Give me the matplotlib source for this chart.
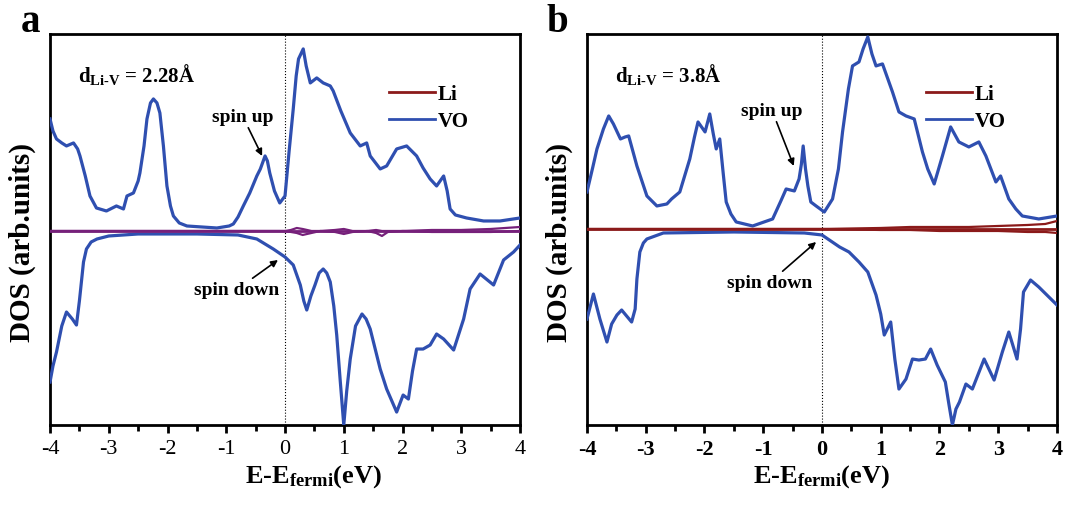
import numpy as np
import matplotlib
matplotlib.use("Agg")
import matplotlib.pyplot as plt
from matplotlib.lines import Line2D

plt.rcParams['font.family'] = ['Liberation Serif', 'DejaVu Serif']
plt.rcParams['mathtext.fontset'] = 'custom'
plt.rcParams['mathtext.rm'] = 'Liberation Serif'
plt.rcParams['mathtext.bf'] = 'Liberation Serif:bold'
plt.rcParams['mathtext.it'] = 'Liberation Serif:italic'
plt.rcParams['axes.unicode_minus'] = False

# ---- panel a : d(Li-V) = 2.28 A ----
a_up_E = [-4.0, -3.95, -3.89, -3.8, -3.72, -3.6, -3.53, -3.49, -3.4, -3.32, -3.21, -3.04,
          -2.87, -2.75, -2.69, -2.58, -2.5, -2.47, -2.4, -2.35, -2.29, -2.24, -2.18, -2.13,
          -2.07, -2.01, -1.95, -1.9, -1.8, -1.67, -1.16, -0.95, -0.88, -0.8, -0.71, -0.6,
          -0.48, -0.42, -0.34, -0.3, -0.26, -0.18, -0.09, 0.0, 0.07, 0.14, 0.19, 0.23,
          0.31, 0.36, 0.43, 0.54, 0.65, 0.77, 0.82, 0.95, 1.11, 1.28, 1.39, 1.45, 1.62,
          1.73, 1.9, 2.07, 2.24, 2.35, 2.47, 2.58, 2.7, 2.76, 2.81, 2.9, 3.09, 3.38, 3.66, 4.0]
a_up_dos = [112, 100, 92, 88, 85, 88, 82, 75, 55, 35, 23, 20,
            25, 22, 35, 38, 50, 58, 85, 112, 128, 132, 128, 118,
            85, 45, 25, 15, 8, 5, 3, 5, 7, 14, 25, 38,
            55, 62, 75, 70, 58, 40, 28, 35, 80, 122, 155, 172,
            182, 165, 148, 153, 148, 145, 140, 120, 98, 85, 88, 75, 62,
            65, 82, 85, 75, 63, 52, 45, 55, 40, 22, 16, 13, 10, 10, 13]

a_dn_E = [-4.0, -3.95, -3.89, -3.8, -3.72, -3.62, -3.55, -3.5, -3.43, -3.38, -3.3, -3.2,
          -3.0, -2.5, -1.5, -0.8, -0.48, -0.2, 0.0, 0.14, 0.26, 0.32, 0.37, 0.44, 0.51,
          0.58, 0.65, 0.71, 0.77, 0.83, 0.88, 0.94, 1.0, 1.05, 1.11, 1.2, 1.31, 1.38,
          1.45, 1.62, 1.73, 1.9, 2.01, 2.1, 2.17, 2.24, 2.35, 2.47, 2.58, 2.7, 2.87,
          3.04, 3.15, 3.32, 3.55, 3.72, 3.89, 4.0]
a_dn_dos = [-151, -135, -121, -95, -81, -88, -94, -70, -31, -18, -11, -8,
            -5, -3, -3, -4, -8, -18, -26, -34, -54, -70, -79, -65, -54,
            -42, -38, -42, -51, -75, -104, -150, -194, -160, -128, -95, -83, -88,
            -98, -138, -158, -181, -164, -168, -140, -118, -118, -114, -103, -108, -119,
            -88, -58, -43, -54, -29, -21, -14]

a_li_E = [-4.0, 0.0, 0.1, 0.2, 0.3, 0.45, 0.6, 0.85, 1.0, 1.15, 1.4, 1.55, 1.65, 1.75,
          2.0, 2.5, 3.0, 3.5, 4.0]
a_li_up = [0, 0, 1, 3, 2, 0, 0, 1, 2, 0, 0, 1, 0, 0, 0, 1, 1, 2, 4]
a_li_dn = [0, 0, -1, -2, -4, -2, 0, -1, -3, -1, 0, -2, -5, -1, 0, -1, -1, -1, 0]

# ---- panel b : d(Li-V) = 3.8 A ----
b_up_E = [-4.0, -3.9, -3.83, -3.72, -3.63, -3.55, -3.43, -3.35, -3.29, -3.22, -3.15, -2.98,
          -2.81, -2.64, -2.56, -2.42, -2.25, -2.17, -2.11, -2.05, -1.99, -1.91, -1.85,
          -1.8, -1.74, -1.68, -1.63, -1.55, -1.46, -1.18, -0.84, -0.7, -0.61, -0.47, -0.39,
          -0.35, -0.32, -0.28, -0.24, -0.19, -0.1, 0.04, 0.18, 0.28, 0.35, 0.45, 0.52,
          0.63, 0.7, 0.78, 0.85, 0.92, 1.03, 1.2, 1.31, 1.43, 1.57, 1.71, 1.8, 1.91, 2.05,
          2.19, 2.33, 2.5, 2.67, 2.79, 2.96, 3.04, 3.18, 3.3, 3.41, 3.69, 4.0]
b_up_dos = [37, 62, 80, 100, 113, 105, 90, 92, 93, 78, 63, 33,
            23, 25, 30, 37, 70, 92, 107, 102, 97, 115, 95,
            80, 90, 55, 27, 15, 7, 3, 10, 28, 40, 38, 50,
            65, 83, 60, 43, 27, 23, 17, 30, 60, 97, 140, 163,
            167, 180, 192, 175, 163, 165, 137, 117, 113, 110, 77, 60, 45, 73,
            102, 87, 82, 87, 73, 47, 53, 30, 20, 13, 10, 13]

b_dn_E = [-4.0, -3.89, -3.78, -3.66, -3.58, -3.49, -3.41, -3.24, -3.18, -3.15, -3.1, -3.04,
          -2.98, -2.7, -1.5, -0.3, 0.0, 0.3, 0.46, 0.63, 0.78, 0.92, 1.0, 1.06, 1.17,
          1.24, 1.31, 1.43, 1.54, 1.65, 1.76, 1.85, 1.96, 2.1, 2.16, 2.22, 2.28, 2.34,
          2.45, 2.56, 2.66, 2.76, 2.93, 3.07, 3.18, 3.32, 3.38, 3.43, 3.55, 3.69, 4.0]
b_dn_dos = [-90, -65, -90, -113, -95, -86, -81, -93, -80, -50, -23, -14,
            -10, -4, -3, -4, -6, -18, -23, -33, -43, -66, -85, -106, -93,
            -130, -160, -150, -130, -131, -130, -120, -136, -153, -175, -196, -180, -173,
            -155, -160, -145, -130, -151, -123, -103, -130, -100, -63, -51, -58, -76]

b_li_E = [-4.0, 0.0, 1.0, 1.5, 2.0, 2.5, 3.0, 3.5, 3.8, 4.0]
b_li_up = [0, 0, 1, 2, 2, 2, 3, 4, 5, 8]
b_li_dn = [0, 0, -1, -1, -2, -2, -2, -3, -3, -4]

VO_COLOR = '#2f4fb0'
LI_COLOR = '#8b1a1a'
LI_A_COLOR = '#76207a'


def draw_panel(ax, up_E, up_dos, dn_E, dn_dos, li_E, li_up, li_dn, li_col,
               dtext, ylim, up_txt, up_arrow, dn_txt, dn_arrow, bold_ticks, xlab_x):
    ax.plot(up_E, up_dos, color=VO_COLOR, lw=2.3, zorder=3, solid_joinstyle='round')
    ax.plot(dn_E, dn_dos, color=VO_COLOR, lw=2.3, zorder=3, solid_joinstyle='round')
    ax.axhline(0, color=li_col, lw=2.0, zorder=4)
    ax.plot(li_E, li_up, color=li_col, lw=1.6, zorder=4)
    ax.plot(li_E, li_dn, color=li_col, lw=1.6, zorder=4)
    ax.axvline(0, color='black', lw=0.8, ls=':', zorder=2)

    ax.set_xlim(-4, 4)
    ax.set_ylim(*ylim)
    ax.set_xticks(np.arange(-4, 5, 1))
    ax.set_xticks(np.arange(-3.5, 4, 1), minor=True)
    ax.set_yticks([])
    ax.tick_params(axis='x', which='major', direction='out', length=6, width=2,
                   labelsize=16, pad=4)
    ax.tick_params(axis='x', which='minor', direction='out', length=4, width=2)
    for lab in ax.get_xticklabels():
        lab.set_fontweight('bold' if bold_ticks else 'normal')
    for sp in ax.spines.values():
        sp.set_linewidth(2)

    ax.set_xlabel(r'E-E$_{\mathbf{fermi}}$(eV)', fontsize=19, fontweight='bold')
    ax.xaxis.set_label_coords(xlab_x, -0.095)
    ax.set_ylabel('DOS (arb.units)', fontsize=21, fontweight='bold')
    ax.yaxis.set_label_coords(-0.03, 0.47)

    ax.text(0.06, 0.90, dtext, transform=ax.transAxes, fontsize=15,
            fontweight='bold', ha='left', va='center')

    ax.annotate(up_txt, xy=up_arrow[1], xytext=up_arrow[0], fontsize=14,
                fontweight='bold', ha='center', va='bottom',
                arrowprops=dict(arrowstyle='-|>', color='black', lw=1.2,
                                mutation_scale=10, shrinkA=0, shrinkB=0))
    ax.annotate(dn_txt, xy=dn_arrow[1], xytext=dn_arrow[0], fontsize=14,
                fontweight='bold', ha='center', va='top',
                arrowprops=dict(arrowstyle='-|>', color='black', lw=1.2,
                                mutation_scale=10, shrinkA=0, shrinkB=0))

    handles = [Line2D([], [], color=LI_COLOR, lw=2), Line2D([], [], color=VO_COLOR, lw=2)]
    ax.legend(handles, ['Li', 'VO'], loc='upper right', bbox_to_anchor=(0.93, 0.92),
              frameon=False, handlelength=2.2, handletextpad=0.1,
              labelspacing=0.35, prop={'weight': 'bold', 'size': 15})


fig = plt.figure(figsize=(10.78, 5.06), dpi=100)
ax_a = fig.add_axes([0.0464, 0.158, 0.436, 0.773])
ax_b = fig.add_axes([0.5445, 0.158, 0.436, 0.773])

draw_panel(ax_a, a_up_E, a_up_dos, a_dn_E, a_dn_dos, a_li_E, a_li_up, a_li_dn, LI_A_COLOR,
           r'd$_{\mathbf{Li\text{-}V}}$ = 2.28Å', (-194, 197),
           'spin up', ((-0.72, 106), (-0.39, 75)),
           'spin down', ((-0.82, -50), (-0.12, -29)), False, 0.56)
draw_panel(ax_b, b_up_E, b_up_dos, b_dn_E, b_dn_dos, b_li_E, b_li_up, b_li_dn, LI_COLOR,
           r'd$_{\mathbf{Li\text{-}V}}$ = 3.8Å', (-196, 195),
           'spin up', ((-0.85, 110), (-0.48, 63)),
           'spin down', ((-0.89, -45), (-0.1, -13)), True, 0.5)

fig.text(0.019, 0.955, 'a', fontsize=28, fontweight='bold', ha='left', va='center')
fig.text(0.507, 0.955, 'b', fontsize=28, fontweight='bold', ha='left', va='center')

fig.savefig('out.png', dpi=100)
